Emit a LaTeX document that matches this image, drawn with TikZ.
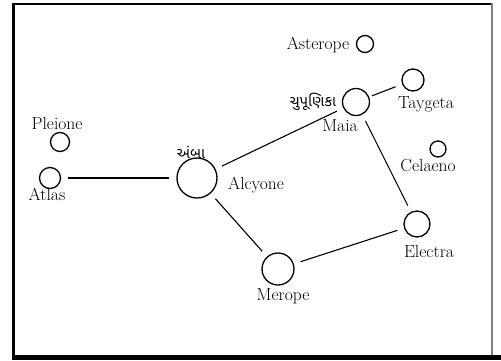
\documentclass[tikz,border=0pt]{standalone}
\usepackage{fontspec}
\newfontfamily\gujfont[Script=Gujarati]{Noto Sans Gujarati UI}
\begin{document}
\begin{tikzpicture}[x=1pt,y=-1pt,
  star/.style={draw, circle, line width=1.3pt, inner sep=0pt},
  lbl/.style={inner sep=0pt, font=\fontsize{17.5}{19}\selectfont},
  glbl/.style={inner sep=0pt, font=\fontsize{15}{17}\selectfont\gujfont},
  link/.style={line width=1.1pt, shorten >=7pt, shorten <=7pt}]
\useasboundingbox (0,0) rectangle (501,360);
% frame
\fill[black] (11.5,3) rectangle (14.5,360);
\fill[black] (11.5,3) rectangle (492,5);
\fill[gray] (490.5,3) rectangle (493,356);
\fill[black] (11.5,355) rectangle (501,360);
% stars
\node[star, minimum size=17pt] (asterope) at (365,44) {};
\node[star, minimum size=22pt] (taygeta) at (413,80) {};
\node[star, minimum size=27pt] (maia) at (356,102) {};
\node[star, minimum size=16pt] (celaeno) at (438,149) {};
\node[star, minimum size=19pt] (pleione) at (60,142) {};
\node[star, minimum size=21pt] (atlas) at (50,178) {};
\node[star, minimum size=40pt] (alcyone) at (197,178) {};
\node[star, minimum size=32pt] (merope) at (278,269) {};
\node[star, minimum size=26pt] (electra) at (417,224) {};
% labels
\node[lbl] (tasterope) at (318,45) {Asterope};
\node[lbl] (ttaygeta) at (426,104) {Taygeta};
\node[glbl] (tchup) at (313,102) {ચુપૂણિકા};
\node[lbl] (tmaia) at (340,126) {Maia};
\node[lbl] (tcelaeno) at (428,166) {Celaeno};
\node[lbl] (tpleione) at (57,123) {Pleione};
\node[lbl] (tatlas) at (47,194) {Atlas};
\node[glbl] (tamba) at (191,152) {અંબા};
\node[lbl] (talcyone) at (256,185) {Alcyone};
\node[lbl] (tmerope) at (283,296) {Merope};
\node[lbl] (telectra) at (429,251) {Electra};
% connectors
\draw[link] (atlas) -- (alcyone);
\draw[link] (alcyone) -- (maia);
\draw[link] (alcyone) -- (merope);
\draw[link] (merope) -- (electra);
\draw[link] (maia) -- (electra);
\draw[link, shorten <=3pt] (maia) -- (taygeta);
\end{tikzpicture}
\end{document}
